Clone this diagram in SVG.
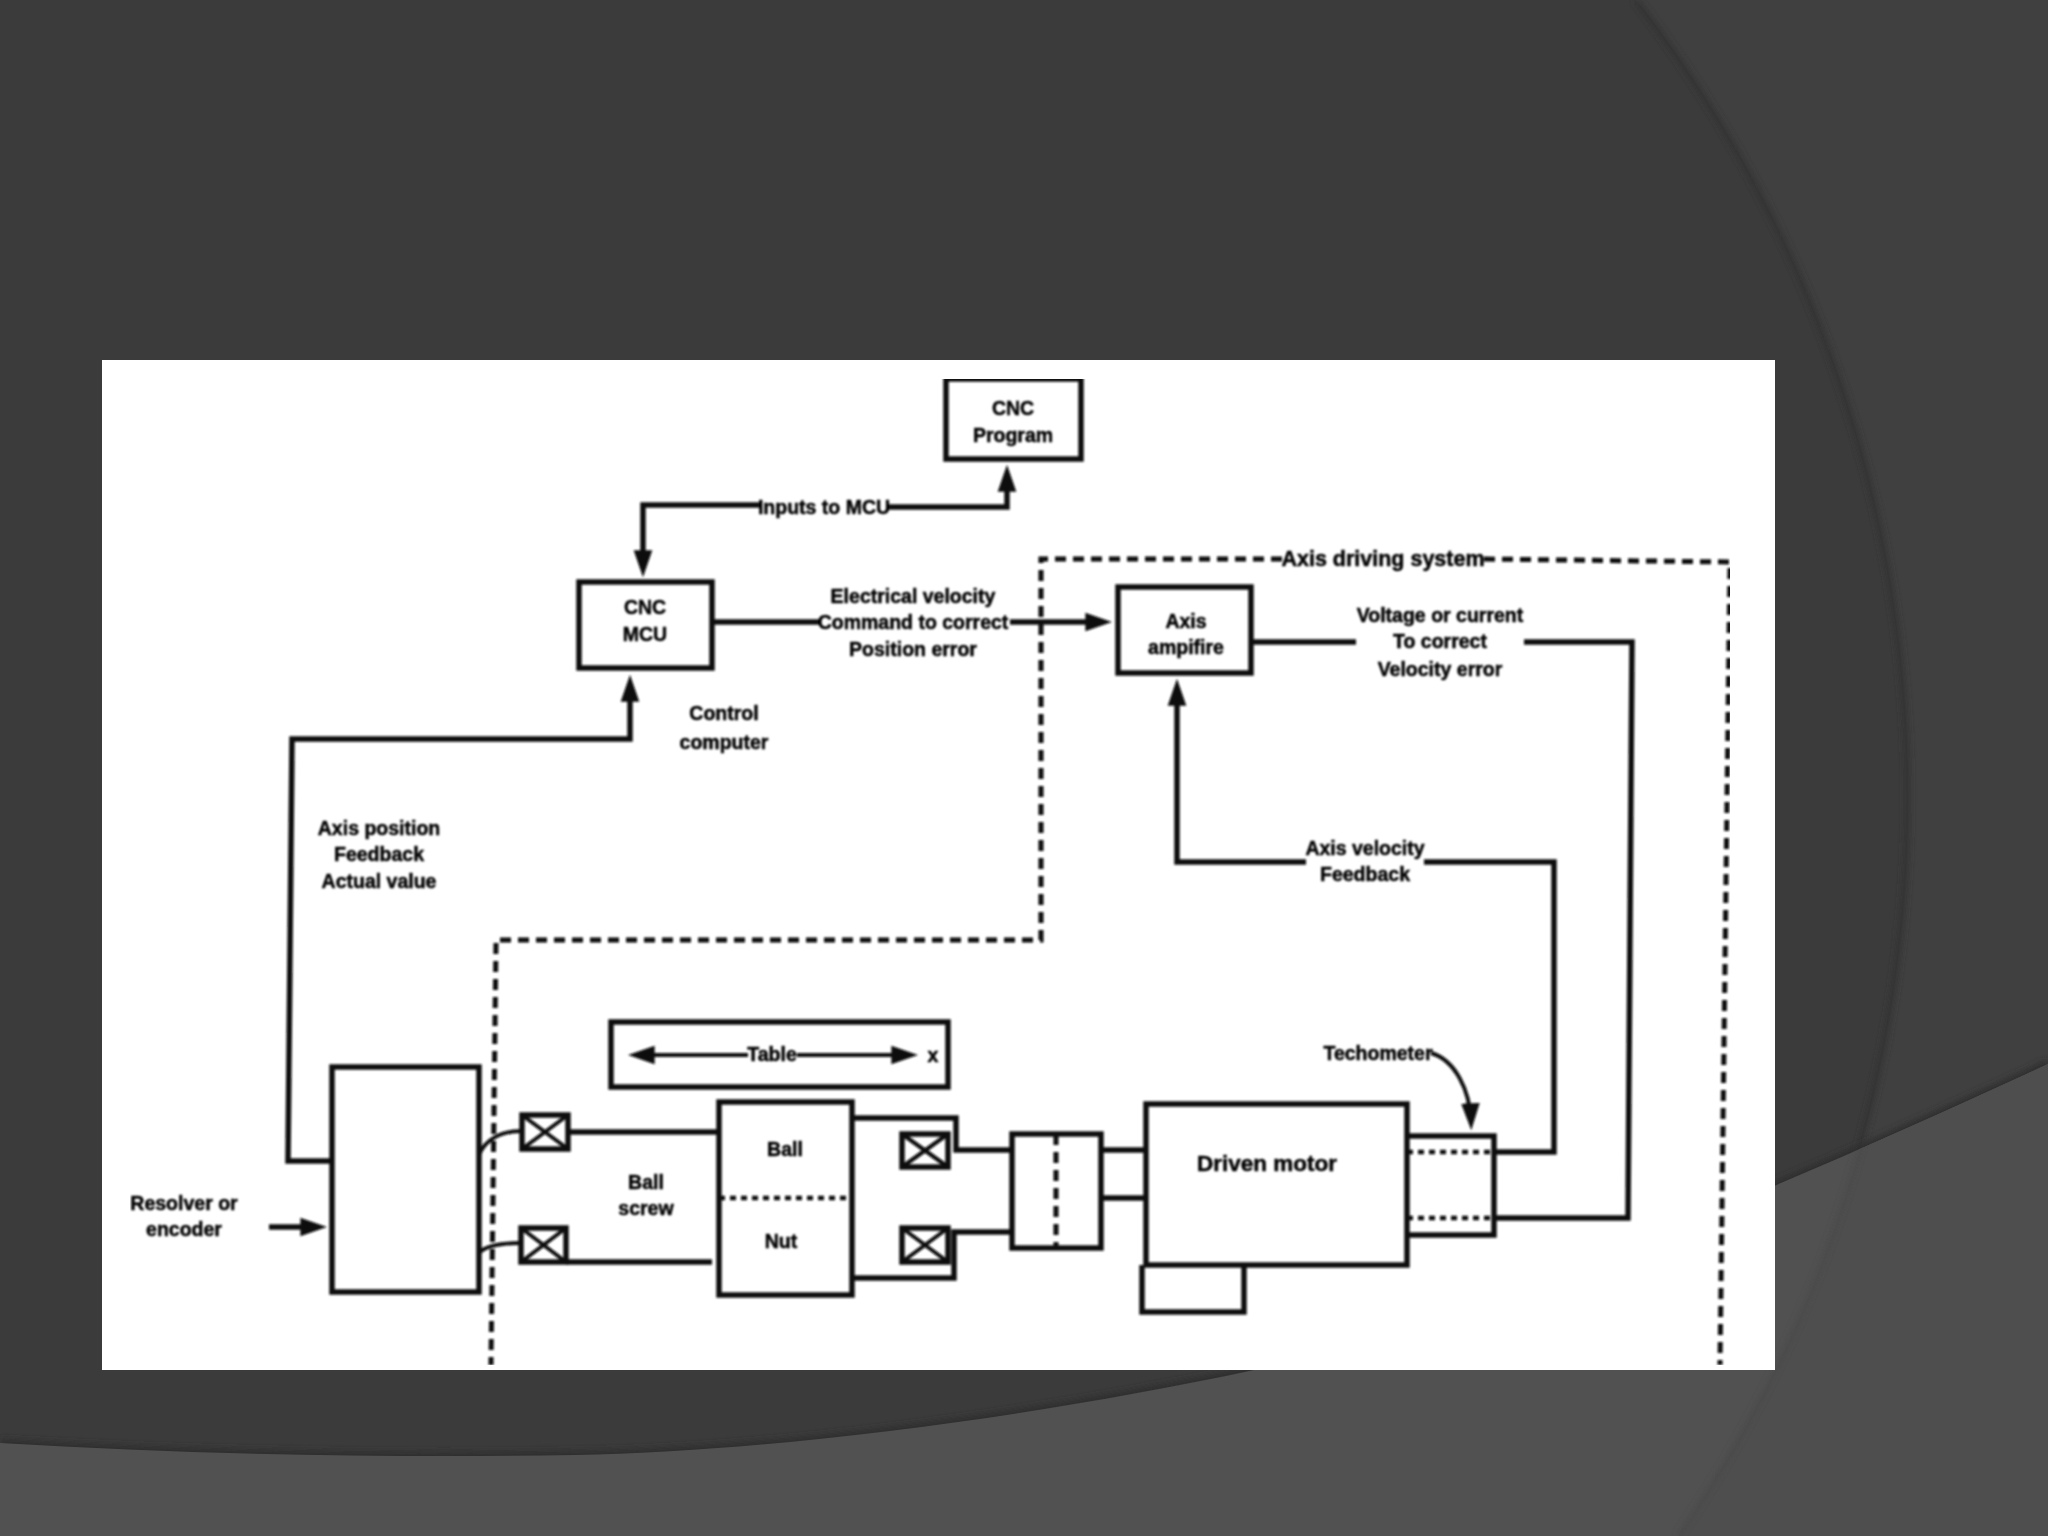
<svg xmlns="http://www.w3.org/2000/svg" width="2048" height="1536" viewBox="0 0 2048 1536">
<defs>
<style>
.box{fill:none;stroke:#0d0d0d;stroke-width:5.5}
.ln{fill:none;stroke:#0d0d0d;stroke-width:5.5}
.thin{fill:none;stroke:#0d0d0d;stroke-width:4}
.dash{fill:none;stroke:#0d0d0d;stroke-width:5;stroke-dasharray:11 7}
.dot{fill:none;stroke:#0d0d0d;stroke-width:4.5;stroke-dasharray:6 5}
text{font-family:"Liberation Sans",Arial,sans-serif;font-weight:700;font-size:19.5px;fill:#000;stroke:#000;stroke-width:0.5px;text-anchor:middle}
</style>
<marker id="arrow" markerUnits="userSpaceOnUse" markerWidth="27" markerHeight="20" viewBox="0 0 26 18" refX="18" refY="9" orient="auto-start-reverse">
<path d="M0,0 L26,9 L0,18 Z" fill="#0d0d0d"/>
</marker>
<filter id="soft" x="0" y="0" width="100%" height="100%" filterUnits="objectBoundingBox"><feGaussianBlur stdDeviation="0.8"/></filter>
<filter id="shade" x="-10%" y="-10%" width="120%" height="120%"><feGaussianBlur stdDeviation="3"/></filter>
<clipPath id="bandclip"><path d="M0,1443 C200,1455 400,1458 575,1455 C760,1452 1020,1420 1254,1370 C1480,1315 1776,1190 2048,1064 L2048,1536 L0,1536 Z"/></clipPath>
</defs>

<g id="background">
<rect width="2048" height="1536" fill="#3b3b3b"/>
<path d="M1636,0 A1304,1304 0 0 1 1678,1536 L2048,1536 L2048,0 Z" fill="#404040"/>
<path d="M1636,0 A1304,1304 0 0 1 1678,1536" fill="none" stroke="#303030" stroke-width="5" filter="url(#shade)"/>
<path d="M0,1443 C200,1455 400,1458 575,1455 C760,1452 1020,1420 1254,1370 C1480,1315 1776,1190 2048,1064" fill="none" stroke="#2e2e2e" stroke-width="8" filter="url(#shade)"/>
<path d="M0,1443 C200,1455 400,1458 575,1455 C760,1452 1020,1420 1254,1370 C1480,1315 1776,1190 2048,1064 L2048,1536 L0,1536 Z" fill="#515151"/>
<g clip-path="url(#bandclip)">
<path d="M1636,0 A1304,1304 0 0 1 1678,1536 L2048,1536 L2048,0 Z" fill="#4e4e4e"/>
<path d="M1636,0 A1304,1304 0 0 1 1678,1536" fill="none" stroke="#474747" stroke-width="3" filter="url(#shade)"/>
</g>
</g>

<rect id="panel" x="102" y="360" width="1673" height="1010" fill="#ffffff"/>

<g id="diagram" filter="url(#soft)">
<g id="connectors">
<path class="ln" d="M888,507 H1007 V473" marker-end="url(#arrow)"/>
<path class="ln" d="M760,505 H643 V569" marker-end="url(#arrow)"/>
<path class="ln" d="M712,622 H819"/>
<path class="ln" d="M1010,622 H1104" marker-end="url(#arrow)"/>
<path class="ln" d="M332,1161 H288 L292,739 H630 V683" marker-end="url(#arrow)"/>
<path class="ln" d="M269,1227 H319" marker-end="url(#arrow)"/>
<path class="ln" d="M1251,642 H1356"/>
<path class="ln" d="M1524,642 H1632 L1628,1218 H1494"/>
<path class="ln" d="M1494,1152 H1554 V862 H1424"/>
<path class="ln" d="M1306,862 H1177 V687" marker-end="url(#arrow)"/>
<path class="thin" d="M1431,1053 C1455,1060 1470,1090 1471,1122" marker-end="url(#arrow)"/>
<path class="thin" d="M748,1055 H636" marker-end="url(#arrow)"/>
<path class="thin" d="M797,1055 H910" marker-end="url(#arrow)"/>
<path class="thin" d="M479,1155 C485,1140 500,1131 522,1131"/>
<path class="thin" d="M479,1253 C485,1246 500,1243 521,1243"/>
<path class="ln" d="M568,1132 H719"/>
<path class="ln" d="M566,1262 H712"/>
<path class="ln" d="M852,1118 H956 V1150 H1012"/>
<path class="ln" d="M852,1278 H954 V1232 H1012"/>
<path class="ln" d="M1101,1150 H1146"/>
<path class="ln" d="M1101,1198 H1146"/>
<path class="dash" d="M1282,559 H1041 V940 H496 L491,1365"/>
<path class="dash" d="M1484,559 L1730,562 L1720,1365"/>
</g>

<g id="cnc-program"><rect class="box" x="946" y="379" width="135" height="80"/><text x="1013" y="415">CNC</text><text x="1013" y="442">Program</text></g>
<g id="cnc-mcu"><rect class="box" x="579" y="582" width="133" height="86"/><text x="645" y="614">CNC</text><text x="645" y="641">MCU</text></g>
<g id="axis-amplifier"><rect class="box" x="1118" y="587" width="133" height="86"/><text x="1186" y="628">Axis</text><text x="1186" y="654">ampifire</text></g>
<g id="encoder-box"><rect class="box" x="332" y="1067" width="147" height="225"/></g>
<g id="table"><rect class="box" x="611" y="1022" width="337" height="65"/><text x="772" y="1061">Table</text><text x="933" y="1062">x</text></g>
<g id="ball-nut"><rect class="box" x="719" y="1102" width="133" height="193"/><path class="dot" d="M719,1198 H852"/><text x="785" y="1156">Ball</text><text x="781" y="1248">Nut</text></g>
<g id="bearing-1"><rect class="box" x="522" y="1115" width="46" height="34"/><path class="thin" d="M522,1115 L568,1149 M568,1115 L522,1149"/></g>
<g id="bearing-2"><rect class="box" x="521" y="1228" width="45" height="34"/><path class="thin" d="M521,1228 L566,1262 M566,1228 L521,1262"/></g>
<g id="bearing-3"><rect class="box" x="902" y="1134" width="46" height="33"/><path class="thin" d="M902,1134 L948,1167 M948,1134 L902,1167"/></g>
<g id="bearing-4"><rect class="box" x="902" y="1228" width="46" height="34"/><path class="thin" d="M902,1228 L948,1262 M948,1228 L902,1262"/></g>
<g id="coupling"><rect class="box" x="1012" y="1134" width="89" height="114"/><path class="dash" d="M1056,1134 V1248"/></g>
<g id="motor"><rect class="box" x="1146" y="1104" width="261" height="161"/><text x="1267" y="1171" style="font-size:22.5px">Driven motor</text></g>
<g id="motor-base"><path class="box" d="M1142,1265 V1312 H1244 V1265"/></g>
<g id="tachometer"><path class="box" d="M1407,1136 H1494 V1235 H1407"/><path class="dot" d="M1407,1152 H1494 M1407,1218 H1494"/></g>

<g id="labels">
<text x="824" y="514">Inputs to MCU</text>
<text x="913" y="603">Electrical velocity</text>
<text x="913" y="629">Command to correct</text>
<text x="913" y="656">Position error</text>
<text x="1383" y="566" style="font-size:21.5px">Axis driving system</text>
<text x="1440" y="622">Voltage or current</text>
<text x="1440" y="648">To correct</text>
<text x="1440" y="676">Velocity error</text>
<text x="724" y="720">Control</text>
<text x="724" y="749">computer</text>
<text x="379" y="835">Axis position</text>
<text x="379" y="861">Feedback</text>
<text x="379" y="888">Actual value</text>
<text x="1365" y="855">Axis velocity</text>
<text x="1365" y="881">Feedback</text>
<text x="1378" y="1060">Techometer</text>
<text x="184" y="1210">Resolver or</text>
<text x="184" y="1236">encoder</text>
<text x="646" y="1189">Ball</text>
<text x="646" y="1215">screw</text>
</g>
</g>
</svg>
